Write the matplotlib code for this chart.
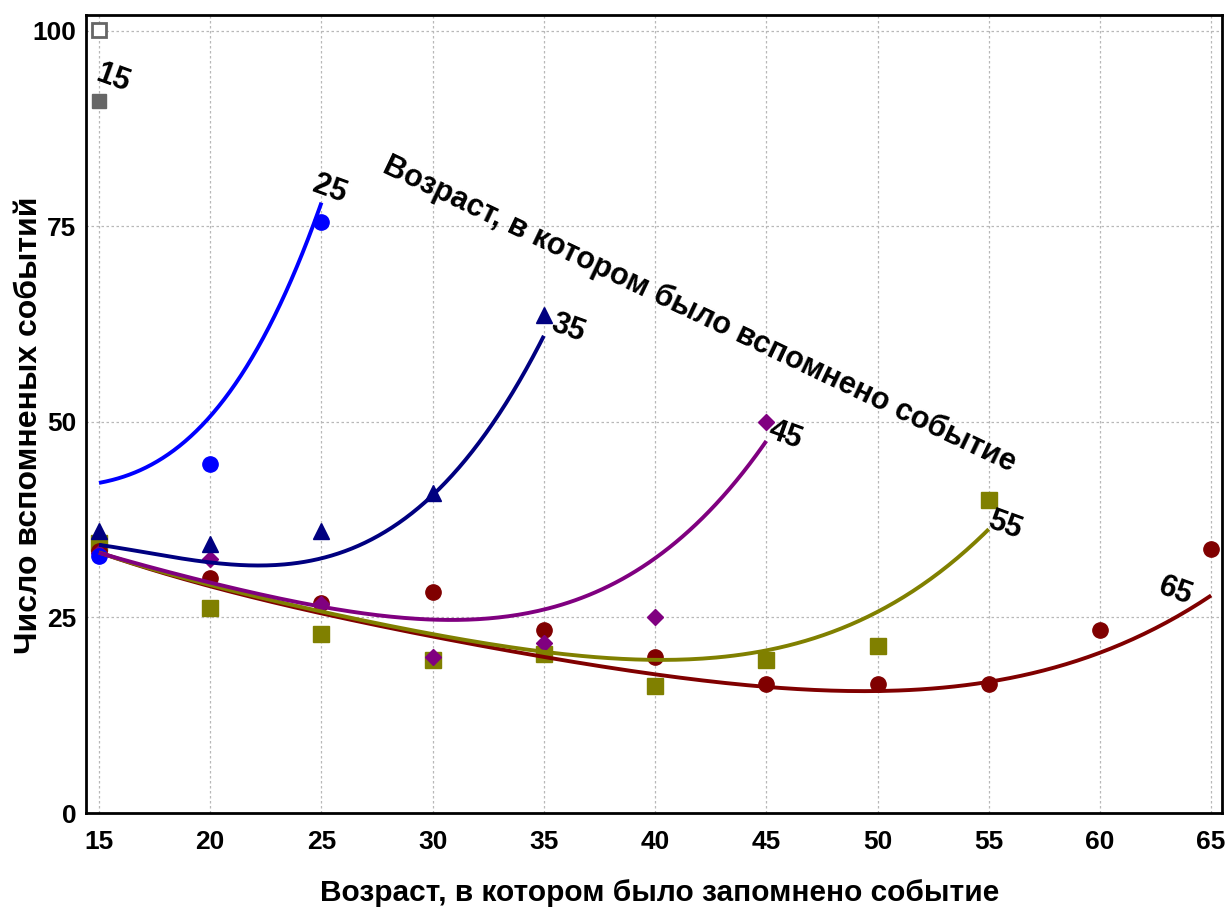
import numpy as np
import matplotlib
matplotlib.use('Agg')
import matplotlib.pyplot as plt

plt.rcParams['font.family'] = ['Liberation Sans', 'DejaVu Sans']

# возраст запоминания (ось X)
ages = [15, 20, 25, 30, 35, 40, 45, 50, 55, 60, 65]

# точки: число вспомненных событий для каждой группы (возраст вспоминания)
g15_x = [15]
g15_y = [91.0]
g15_open_y = [100.1]

g25_x = [15, 20, 25]
g25_y = [32.8, 44.6, 75.6]

g35_x = [15, 20, 25, 30, 35]
g35_y = [36.0, 34.4, 36.0, 40.9, 63.7]

g45_x = [15, 20, 25, 30, 35, 40, 45]
g45_y = [33.3, 32.5, 26.7, 19.9, 21.7, 25.0, 50.0]

g55_x = [15, 20, 25, 30, 35, 40, 45, 50, 55]
g55_y = [34.5, 26.2, 22.9, 19.6, 20.3, 16.2, 19.6, 21.4, 40.0]

g65_x = [15, 20, 25, 30, 35, 40, 45, 50, 55, 60, 65]
g65_y = [33.5, 30.1, 26.8, 28.2, 23.4, 19.9, 16.5, 16.5, 16.5, 23.4, 33.8]

# линии тренда
t25_x = [15, 17.5, 20, 22.5, 23.75, 25]
t25_y = [42.2, 44.8, 50.7, 61.3, 69.0, 78.0]

t35_x = [15, 20, 22.5, 25, 30, 32.5, 35]
t35_y = [34.3, 32.0, 31.6, 32.8, 40.2, 49.4, 60.9]

t45_x = [15, 20, 25, 30, 35, 40, 42.5, 45]
t45_y = [33.3, 29.4, 26.4, 24.8, 26.1, 31.9, 39.6, 47.3]

t55_x = [15, 20, 25, 30, 35, 40, 45, 50, 55]
t55_y = [33.3, 29.2, 25.7, 22.9, 20.6, 19.6, 20.8, 25.7, 36.3]

t65_x = [15, 20, 25, 30, 35, 40, 45, 50, 55, 60, 65]
t65_y = [33.3, 29.0, 25.6, 22.5, 19.9, 17.7, 16.3, 15.6, 16.6, 20.6, 27.8]

fig = plt.figure(figsize=(12.25, 9.09), dpi=100)
ax = fig.add_axes([0.0702, 0.1056, 0.9274, 0.878])

ax.plot(g15_x, g15_y, 's', color='#666666', ms=10.5)
ax.plot(g15_x, g15_open_y, 's', mfc='white', mec='#666666', mew=2, ms=10)
ax.plot(g55_x, g55_y, 's', color='#808000', ms=11)
ax.plot(g65_x, g65_y, 'o', color='#800000', ms=11)
ax.plot(g45_x, g45_y, 'D', color='#800080', ms=8)
ax.plot(g25_x, g25_y, 'o', color='#0000ff', ms=11)
ax.plot(g35_x, g35_y, '^', color='#000080', ms=11)


def trend(xs, ys, deg, color):
    c = np.polyfit(xs, ys, deg)
    xx = np.linspace(xs[0], xs[-1], 200)
    ax.plot(xx, np.polyval(c, xx), color=color, lw=2.8, solid_capstyle='butt')


trend(t65_x, t65_y, 4, '#800000')
trend(t55_x, t55_y, 4, '#808000')
trend(t45_x, t45_y, 4, '#800080')
trend(t35_x, t35_y, 3, '#000080')
trend(t25_x, t25_y, 3, '#0000ff')

lbl = dict(fontsize=22, fontweight='bold', rotation=-20, ha='center', va='center')
ax.text(15.63, 94.0, '15', **lbl)
ax.text(25.39, 79.7, '25', **lbl)
ax.text(36.09, 62.0, '35', **lbl)
ax.text(45.85, 48.3, '45', **lbl)
ax.text(55.74, 36.8, '55', **lbl)
ax.text(63.38, 28.3, '65', **lbl)
ax.text(42.0, 63.7, 'Возраст, в котором было вспомнено событие', fontsize=22,
        fontweight='bold', rotation=-25.5, ha='center', va='center')

ax.set_xlim(14.415, 65.49)
ax.set_ylim(0, 102.05)
ax.set_xticks(ages)
ax.set_yticks([0, 25, 50, 75, 100])
ax.tick_params(axis='x', length=0, pad=12)
ax.tick_params(axis='y', length=0, pad=7)
for t in ax.get_xticklabels() + ax.get_yticklabels():
    t.set_fontfamily(['Liberation Sans Narrow', 'Liberation Sans'])
    t.set_fontweight('bold')
    t.set_fontsize(19)
ax.grid(True, color='#b8b8b8', ls=(0, (2, 2)), lw=0.9)
ax.set_axisbelow(True)
for s in ax.spines.values():
    s.set_linewidth(2)
    s.set_color('black')

fig.text(0.5388, 0.0176, 'Возраст, в котором было запомнено событие', fontsize=21.5,
         fontweight='bold', ha='center', va='center')
fig.text(0.0235, 0.5325, 'Число вспомненых событий', fontsize=23,
         fontweight='bold', rotation=90, ha='center', va='center')

plt.savefig('out.png', dpi=100)
